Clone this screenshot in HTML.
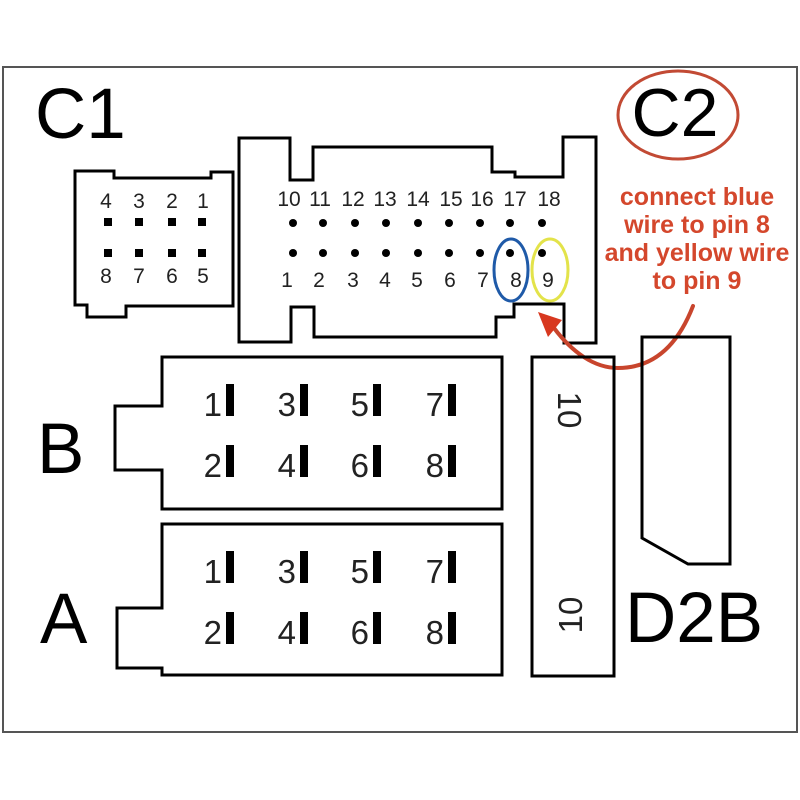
<!DOCTYPE html>
<html>
<head>
<meta charset="utf-8">
<style>
  html,body{margin:0;padding:0;background:#fff;}
  svg{display:block;}
  text{font-family:"Liberation Sans",Arial,sans-serif;}
</style>
</head>
<body>
<svg width="800" height="800" viewBox="0 0 800 800" xmlns="http://www.w3.org/2000/svg">
  <rect width="800" height="800" fill="#fff"/>
  <!-- outer frame -->
  <rect x="3" y="67" width="794" height="665" fill="none" stroke="#555" stroke-width="2"/>

  <!-- big labels -->
  <text x="35" y="138" font-size="71" fill="#000">C1</text>
  <text x="37" y="473" font-size="71" fill="#000">B</text>
  <text x="40" y="643" font-size="71" fill="#000">A</text>
  <text x="625" y="642" font-size="71" fill="#000">D2B</text>

  <!-- C2 label with ellipse -->
  <ellipse cx="678" cy="115" rx="60" ry="44" fill="none" stroke="#c24a34" stroke-width="3"/>
  <text x="675" y="136" font-size="68" fill="#000" text-anchor="middle">C2</text>

  <!-- instruction text -->
  <g font-size="25" font-weight="bold" fill="#d4472c" text-anchor="middle">
    <text x="697" y="205">connect blue</text>
    <text x="697" y="233">wire to pin 8</text>
    <text x="697" y="261">and yellow wire</text>
    <text x="697" y="289">to pin 9</text>
  </g>

  <!-- C1 connector -->
  <path d="M75,171 H114 V178 H211 V172 H233 V306 H126 V317 H87 V305 H75 Z" fill="none" stroke="#000" stroke-width="3"/>
  <g font-size="21" fill="#222" text-anchor="middle">
    <text x="106" y="208">4</text>
    <text x="139" y="208">3</text>
    <text x="172" y="208">2</text>
    <text x="203" y="208">1</text>
    <text x="106" y="283">8</text>
    <text x="139" y="283">7</text>
    <text x="172" y="283">6</text>
    <text x="203" y="283">5</text>
  </g>
  <g fill="#000">
    <rect x="104" y="218" width="8" height="8"/>
    <rect x="135" y="218" width="8" height="8"/>
    <rect x="168" y="218" width="8" height="8"/>
    <rect x="198" y="218" width="8" height="8"/>
    <rect x="104" y="249" width="8" height="8"/>
    <rect x="135" y="249" width="8" height="8"/>
    <rect x="168" y="249" width="8" height="8"/>
    <rect x="198" y="249" width="8" height="8"/>
  </g>

  <!-- C2 connector -->
  <path d="M239,138 H290 V180 H313 V147 H492 V172 H515 V177 H563 V137 H596 V343 H564 V304 H514 V317 H496 V337 H314 V307 H291 V342 H239 Z" fill="none" stroke="#000" stroke-width="3"/>
  <g font-size="21" fill="#222" text-anchor="middle">
    <text x="289" y="206">10</text>
    <text x="320" y="206">11</text>
    <text x="353" y="206">12</text>
    <text x="385" y="206">13</text>
    <text x="418" y="206">14</text>
    <text x="451" y="206">15</text>
    <text x="482" y="206">16</text>
    <text x="515" y="206">17</text>
    <text x="549" y="206">18</text>
    <text x="287" y="287">1</text>
    <text x="319" y="287">2</text>
    <text x="353" y="287">3</text>
    <text x="385" y="287">4</text>
    <text x="417" y="287">5</text>
    <text x="450" y="287">6</text>
    <text x="483" y="287">7</text>
    <text x="516" y="287">8</text>
    <text x="548" y="287">9</text>
  </g>
  <g fill="#000">
    <circle cx="293" cy="223" r="4"/><circle cx="323" cy="223" r="4"/><circle cx="355" cy="223" r="4"/>
    <circle cx="386" cy="223" r="4"/><circle cx="418" cy="223" r="4"/><circle cx="449" cy="223" r="4"/>
    <circle cx="480" cy="223" r="4"/><circle cx="510" cy="223" r="4"/><circle cx="542" cy="223" r="4"/>
    <circle cx="293" cy="253" r="4"/><circle cx="323" cy="253" r="4"/><circle cx="355" cy="253" r="4"/>
    <circle cx="386" cy="253" r="4"/><circle cx="418" cy="253" r="4"/><circle cx="449" cy="253" r="4"/>
    <circle cx="480" cy="253" r="4"/><circle cx="510" cy="253" r="4"/><circle cx="542" cy="253" r="4"/>
  </g>
  <ellipse cx="511" cy="270" rx="17" ry="31" fill="none" stroke="#1f5aa8" stroke-width="3"/>
  <ellipse cx="550" cy="270" rx="18" ry="31" fill="none" stroke="#e3e34a" stroke-width="3"/>

  <!-- red arrow -->
  <path d="M693,306 C676,350 650,368 618,368 C594,368 572,352 554,328" fill="none" stroke="#c8452d" stroke-width="4" stroke-linecap="round"/>
  <polygon points="538,312 562,320 548,337" fill="#d8381f"/>

  <!-- B connector -->
  <path d="M162,357 H502 V509 H162 V470 H115 V406 H162 Z" fill="none" stroke="#000" stroke-width="3"/>
  <!-- A connector -->
  <path d="M162,524 H502 V675 H162 V668 H117 V608 H162 Z" fill="none" stroke="#000" stroke-width="3"/>

  <!-- B pins -->
  <g fill="#000">
    <rect x="226" y="384" width="8" height="32"/><rect x="300" y="384" width="8" height="32"/>
    <rect x="373" y="384" width="8" height="32"/><rect x="448" y="384" width="8" height="32"/>
    <rect x="226" y="445" width="8" height="32"/><rect x="300" y="445" width="8" height="32"/>
    <rect x="373" y="445" width="8" height="32"/><rect x="448" y="445" width="8" height="32"/>
    <rect x="226" y="551" width="8" height="32"/><rect x="300" y="551" width="8" height="32"/>
    <rect x="373" y="551" width="8" height="32"/><rect x="448" y="551" width="8" height="32"/>
    <rect x="226" y="612" width="8" height="32"/><rect x="300" y="612" width="8" height="32"/>
    <rect x="373" y="612" width="8" height="32"/><rect x="448" y="612" width="8" height="32"/>
  </g>
  <g font-size="33" fill="#222" text-anchor="end">
    <text x="222" y="416">1</text><text x="296" y="416">3</text>
    <text x="369" y="416">5</text><text x="444" y="416">7</text>
    <text x="222" y="477">2</text><text x="296" y="477">4</text>
    <text x="369" y="477">6</text><text x="444" y="477">8</text>
    <text x="222" y="583">1</text><text x="296" y="583">3</text>
    <text x="369" y="583">5</text><text x="444" y="583">7</text>
    <text x="222" y="644">2</text><text x="296" y="644">4</text>
    <text x="369" y="644">6</text><text x="444" y="644">8</text>
  </g>

  <!-- "10" connector -->
  <rect x="532" y="357" width="82" height="319" fill="none" stroke="#000" stroke-width="3"/>
  <text transform="translate(558,410) rotate(90)" font-size="33" fill="#222" text-anchor="middle">10</text>
  <text transform="translate(582,615) rotate(-90)" font-size="33" fill="#222" text-anchor="middle">10</text>

  <!-- D2B shape -->
  <path d="M642,337 H730 V564 H688 L642,538 Z" fill="none" stroke="#000" stroke-width="3"/>
</svg>
</body>
</html>
